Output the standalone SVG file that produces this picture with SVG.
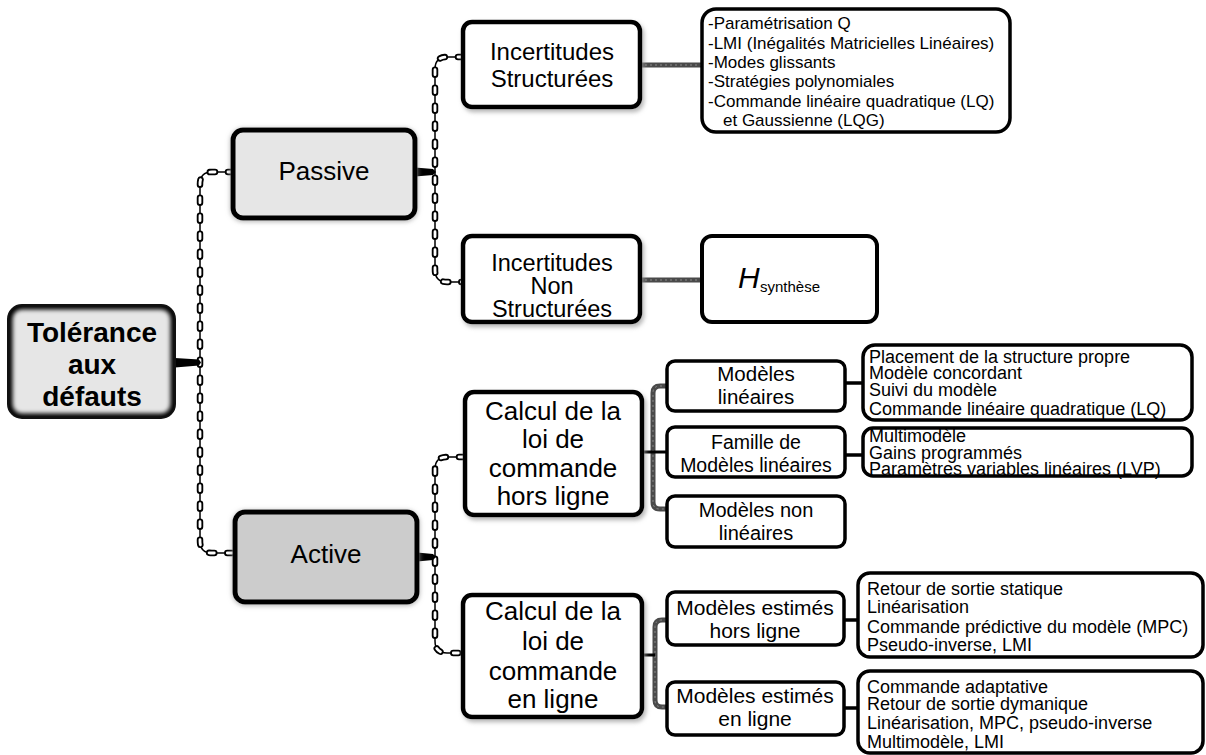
<svg xmlns="http://www.w3.org/2000/svg" xmlns:xlink="http://www.w3.org/1999/xlink" width="1206" height="755" viewBox="0 0 1206 755">
<defs>
<style>
text{font-family:"Liberation Sans",Arial,sans-serif;fill:#000}
.c{text-anchor:middle}
.box{fill:#fff;stroke:#000;stroke-width:4.5}
.sbox{fill:#fff;stroke:#000;stroke-width:3.5}
.tbox{fill:#fff;stroke:#000;stroke-width:3.5}
.gray1{fill:#e6e6e6;stroke:#000;stroke-width:5}
.gray2{fill:#cccccc;stroke:#000;stroke-width:5}
.chainline{fill:none;stroke:#000;stroke-width:1.5}
.chainout{fill:none;stroke:#000;stroke-width:6.5;stroke-dasharray:5 13;stroke-linecap:round}
.chainin{fill:none;stroke:#fff;stroke-width:2.8;stroke-dasharray:5 13;stroke-linecap:round}
.gline{fill:none;stroke:#4a4a4a;stroke-width:5}
.gtex{fill:none;stroke:#8a8a8a;stroke-width:1;stroke-dasharray:2 3}
.bline{fill:none;stroke:#000;stroke-width:3.5}
.bar{fill:#000}
.t17{font-size:17px}
.t18{font-size:18px}
</style>
<filter id="sh" x="-10%" y="-10%" width="125%" height="130%">
<feDropShadow dx="2" dy="3" stdDeviation="2" flood-color="#999" flood-opacity="0.7"/>
</filter>
<filter id="glow" x="-10%" y="-15%" width="120%" height="130%">
<feDropShadow dx="0" dy="1" stdDeviation="2.5" flood-color="#999" flood-opacity="0.8"/>
</filter>
<filter id="blur"><feGaussianBlur stdDeviation="2.2"/></filter>
<clipPath id="rootclip"><rect x="8" y="305" width="167" height="113" rx="14"/></clipPath>
<path id="ch1" d="M 233 172 H 212 Q 200 172 200 184 V 541 Q 200 553 212 553 H 235"/>
<path id="ch2" d="M 463 57 H 447 Q 435 57 435 69 V 270 Q 435 282 447 282 H 463"/>
<path id="ch3" d="M 464 457 H 447 Q 435 457 435 469 V 641 Q 435 653 447 653 H 463"/>
</defs>

<g id="connectors">
<use xlink:href="#ch1" class="chainline"/><use xlink:href="#ch1" class="chainout"/><use xlink:href="#ch1" class="chainin"/>
<use xlink:href="#ch2" class="chainline"/><use xlink:href="#ch2" class="chainout"/><use xlink:href="#ch2" class="chainin"/>
<use xlink:href="#ch3" class="chainline"/><use xlink:href="#ch3" class="chainout"/><use xlink:href="#ch3" class="chainin"/>
<path class="bar" d="M175,358 L199,359.5 L201,362.5 L199,365.5 L175,367.5 Z"/>
<path class="bar" d="M415,167.5 L433,169 L436,172 L433,175 L415,176.5 Z"/>
<path class="bar" d="M417,552.5 L433,554 L436,557 L433,560 L417,561.5 Z"/>
<path class="gline" d="M640 65 H702"/><path class="gtex" d="M640 65 H702"/>
<path class="gline" d="M640 280 H702"/><path class="gtex" d="M640 280 H702"/>
<path class="gline" d="M667 386 H660 Q653 386 653 393 V502 Q653 509 660 509 H667"/>
<path class="gtex" d="M667 386 H660 Q653 386 653 393 V502 Q653 509 660 509 H667"/>
<path class="bline" d="M642 452 H667" style="stroke-width:3"/>
<path class="gline" d="M667 620 H662 Q655 620 655 627 V700 Q655 707 662 707 H667"/>
<path class="gtex" d="M667 620 H662 Q655 620 655 627 V700 Q655 707 662 707 H667"/>
<path class="bline" d="M642 655 H655" style="stroke-width:3"/>
<path class="bline" d="M845 383 H863"/>
<path class="bline" d="M845 455 H863"/>
<path class="bline" d="M844 620 H858"/>
<path class="bline" d="M844 708 H858"/>
</g>

<g id="root">
<rect x="8" y="305" width="167" height="113" rx="14" fill="#e6e6e6"/>
<rect x="8" y="305" width="167" height="113" rx="14" fill="none" stroke="#000" stroke-width="9" clip-path="url(#rootclip)" filter="url(#blur)"/>
<rect x="8" y="305" width="167" height="113" rx="14" fill="none" stroke="#111" stroke-width="2"/>
<text class="c" x="92" y="342" font-size="28" font-weight="bold">Tolérance</text>
<text class="c" x="92" y="374" font-size="28" font-weight="bold">aux</text>
<text class="c" x="92" y="406" font-size="28" font-weight="bold">défauts</text>
</g>

<g id="passive">
<rect class="gray1" x="233" y="130" width="182" height="88" rx="10" filter="url(#glow)"/>
<text class="c" x="324" y="180" font-size="26">Passive</text>
</g>

<g id="active">
<rect class="gray2" x="235" y="512" width="182" height="90" rx="10" filter="url(#glow)"/>
<text class="c" x="326" y="563" font-size="26">Active</text>
</g>

<g id="inc-struct">
<rect class="box" x="463" y="22" width="177" height="85" rx="9" filter="url(#sh)"/>
<text class="c" x="552" y="60" font-size="24">Incertitudes</text>
<text class="c" x="552" y="87" font-size="24">Structurées</text>
</g>

<g id="inc-struct-list">
<rect class="tbox" x="702" y="9" width="308" height="123" rx="14"/>
<text class="t17" x="708" y="29">-Paramétrisation Q</text>
<text class="t17" x="708" y="49">-LMI (Inégalités Matricielles Linéaires)</text>
<text class="t17" x="708" y="68">-Modes glissants</text>
<text class="t17" x="708" y="87">-Stratégies polynomiales</text>
<text class="t17" x="708" y="107">-Commande linéaire quadratique (LQ)</text>
<text class="t17" x="723" y="126">et Gaussienne (LQG)</text>
</g>

<g id="inc-nonstruct">
<rect class="box" x="463" y="236" width="177" height="86" rx="9" filter="url(#sh)"/>
<text class="c" x="552" y="271" font-size="23.5">Incertitudes</text>
<text class="c" x="552" y="294" font-size="23.5">Non</text>
<text class="c" x="552" y="317" font-size="23.5">Structurées</text>
</g>

<g id="hsynth">
<rect x="702" y="236" width="175" height="86" rx="10" fill="#fff" stroke="#000" stroke-width="4"/>
<text x="738" y="288" font-size="30" font-style="italic">H</text>
<text x="760" y="292" font-size="15">synthèse</text>
</g>

<g id="calc-hors">
<rect class="box" x="465" y="392" width="177" height="123" rx="9" filter="url(#sh)"/>
<text class="c" x="553" y="420" font-size="26">Calcul de la</text>
<text class="c" x="553" y="448" font-size="26">loi de</text>
<text class="c" x="553" y="477" font-size="26">commande</text>
<text class="c" x="553" y="505" font-size="26">hors ligne</text>
</g>

<g id="calc-en">
<rect class="box" x="463" y="595" width="179" height="122" rx="9" filter="url(#sh)"/>
<text class="c" x="553" y="620" font-size="26">Calcul de la</text>
<text class="c" x="553" y="650" font-size="26">loi de</text>
<text class="c" x="553" y="680" font-size="26">commande</text>
<text class="c" x="553" y="708" font-size="26">en ligne</text>
</g>

<g id="mod-lin">
<rect class="sbox" x="667" y="361" width="178" height="50" rx="8"/>
<text class="c" x="756" y="381" font-size="20.5">Modèles</text>
<text class="c" x="756" y="404" font-size="20.5">linéaires</text>
</g>

<g id="mod-lin-list">
<rect class="tbox" x="863" y="345" width="329" height="75" rx="12"/>
<text class="t18" x="869" y="363">Placement de la structure propre</text>
<text class="t18" x="869" y="379">Modèle concordant</text>
<text class="t18" x="869" y="396">Suivi du modèle</text>
<text class="t18" x="869" y="415">Commande linéaire quadratique (LQ)</text>
</g>

<g id="famille">
<rect class="sbox" x="667" y="427" width="178" height="50" rx="8"/>
<text class="c" x="756" y="449" font-size="19.5">Famille de</text>
<text class="c" x="756" y="472" font-size="19.5">Modèles linéaires</text>
</g>

<g id="famille-list">
<rect class="tbox" x="863" y="428" width="329" height="48" rx="10"/>
<text class="t18" x="869" y="442">Multimodèle</text>
<text class="t18" x="869" y="459">Gains programmés</text>
<text class="t18" x="869" y="475">Paramètres variables linéaires (LVP)</text>
</g>

<g id="mod-nonlin">
<rect class="sbox" x="667" y="496" width="178" height="51" rx="8"/>
<text class="c" x="756" y="517" font-size="20">Modèles non</text>
<text class="c" x="756" y="540" font-size="20">linéaires</text>
</g>

<g id="est-hors">
<rect class="sbox" x="667" y="592" width="177" height="53" rx="8"/>
<text class="c" x="755" y="615" font-size="21">Modèles estimés</text>
<text class="c" x="755" y="638" font-size="21">hors ligne</text>
</g>

<g id="est-hors-list">
<rect class="tbox" x="858" y="573" width="345" height="84" rx="12"/>
<text class="t18" x="867" y="595">Retour de sortie statique</text>
<text class="t18" x="867" y="613">Linéarisation</text>
<text class="t18" x="867" y="633">Commande prédictive du modèle (MPC)</text>
<text class="t18" x="867" y="651">Pseudo-inverse, LMI</text>
</g>

<g id="est-en">
<rect class="sbox" x="667" y="682" width="177" height="53" rx="8"/>
<text class="c" x="755" y="703" font-size="21">Modèles estimés</text>
<text class="c" x="755" y="726" font-size="21">en ligne</text>
</g>

<g id="est-en-list">
<rect class="tbox" x="858" y="671" width="345" height="82" rx="12"/>
<text class="t18" x="867" y="693">Commande adaptative</text>
<text class="t18" x="867" y="710">Retour de sortie dymanique</text>
<text class="t18" x="867" y="729">Linéarisation, MPC, pseudo-inverse</text>
<text class="t18" x="867" y="748">Multimodèle, LMI</text>
</g>
</svg>
